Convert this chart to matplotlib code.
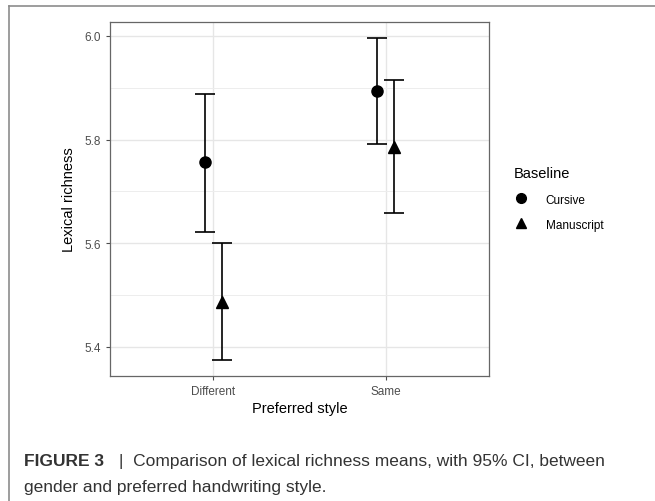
import matplotlib.pyplot as plt
from matplotlib.lines import Line2D
import numpy as np

plt.rcParams['font.family'] = ['Liberation Sans', 'DejaVu Sans']

# data
styles = ['Different', 'Same']
groups = ['Cursive', 'Manuscript']
means = {'Cursive': [5.756, 5.894], 'Manuscript': [5.487, 5.785]}
lower = {'Cursive': [5.622, 5.792], 'Manuscript': [5.374, 5.658]}
upper = {'Cursive': [5.889, 5.997], 'Manuscript': [5.600, 5.915]}
markers = {'Cursive': 'o', 'Manuscript': '^'}
offsets = {'Cursive': -0.05, 'Manuscript': 0.05}

fig = plt.figure(figsize=(6.55, 5.02), dpi=100)
W, H = 655, 502
ax = fig.add_axes([110 / W, 1 - 377 / H, 379 / W, 354 / H])

x = np.arange(1, len(styles) + 1)
for g in groups:
    m = np.array(means[g])
    lo = m - np.array(lower[g])
    hi = np.array(upper[g]) - m
    ax.errorbar(x + offsets[g], m, yerr=[lo, hi], fmt='none', ecolor='black',
                elinewidth=1.2, capsize=7, capthick=1.2, zorder=3)
    ax.plot(x + offsets[g], m, linestyle='none', marker=markers[g], color='black',
            markersize=8 if g == 'Cursive' else 9, zorder=4)

ax.set_xlim(0.4, 2.6)
ax.set_ylim(5.344, 6.027)
ax.set_xticks(x)
ax.set_xticklabels(styles)
ax.set_yticks([5.4, 5.6, 5.8, 6.0])
ax.set_yticklabels(['5.4', '5.6', '5.8', '6.0'])
ax.set_yticks([5.5, 5.7, 5.9], minor=True)
ax.grid(True, which='major', color='#e6e6e6', linewidth=1.0, zorder=0)
ax.grid(True, which='minor', axis='y', color='#ededed', linewidth=0.7, zorder=0)
ax.set_axisbelow(True)
ax.tick_params(axis='both', which='major', colors='#4d4d4d', labelcolor='#4d4d4d',
               labelsize=8.5, length=3, width=0.8)
ax.tick_params(axis='y', which='minor', length=0)
for s in ax.spines.values():
    s.set_color('#666666')
    s.set_linewidth(0.9)
ax.set_xlabel('Preferred style', fontsize=10.5, labelpad=3)
ax.set_ylabel('Lexical richness', fontsize=10.5, labelpad=6)

handles = [Line2D([], [], linestyle='none', marker=markers[g], color='black',
                  markersize=7) for g in groups]
leg = fig.legend(handles, groups, title='Baseline', loc='upper left',
                 bbox_to_anchor=(509 / W, 1 - 162 / H), frameon=False,
                 fontsize=8.5, title_fontsize=10.5, handletextpad=1.5,
                 labelspacing=1.1, handlelength=1.2, borderaxespad=0)
leg._legend_box.align = 'left'
leg._legend_box.sep = 10

# figure frame
fig.add_artist(Line2D([9 / W, 9 / W], [0, 1 - 7 / H], color='#8c8c8c',
                      linewidth=1.2, transform=fig.transFigure))
fig.add_artist(Line2D([9 / W, 1], [1 - 7 / H, 1 - 7 / H], color='#8c8c8c',
                      linewidth=1.2, transform=fig.transFigure))

# caption
fig.text(24 / W, 1 - 462 / H, 'FIGURE 3', fontsize=12.5, fontweight='bold',
         color='#333333', va='center')
fig.text(119 / W, 1 - 462 / H,
         '|  Comparison of lexical richness means, with 95% CI, between',
         fontsize=12.5, color='#333333', va='center')
fig.text(24 / W, 1 - 488 / H, 'gender and preferred handwriting style.',
         fontsize=12.5, color='#333333', va='center')

fig.savefig('out.png', dpi=100)
